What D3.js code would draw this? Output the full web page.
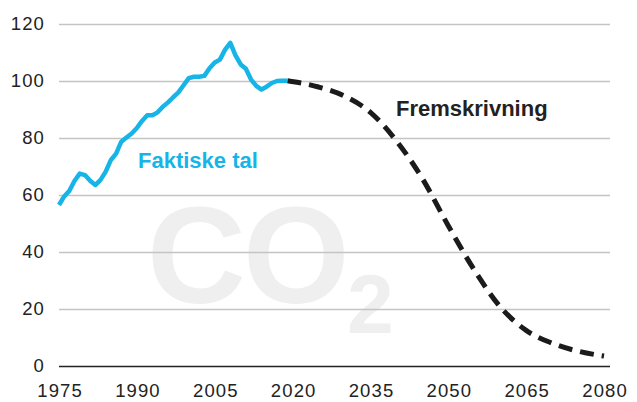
<!DOCTYPE html>
<html>
<head>
<meta charset="utf-8">
<script src="https://cdn.jsdelivr.net/npm/d3@7"></script>
<style>
  html, body { margin: 0; padding: 0; background: #fff; }
  svg { display: block; }
  text { font-family: "Liberation Sans", Arial, sans-serif; }
</style>
</head>
<body>
<svg id="chart" width="637" height="402"></svg>
<script>
// Historical emissions (index), one value per year 1975–2019
const actualYears = d3.range(1975, 2020);
const actualValues = [
  56.5, 59.5, 61.5, 65, 67.5, 67, 65, 63.5, 65.3, 68.2,
  72.3, 74.5, 78.7, 80.2, 81.6, 83.5, 86, 88, 88, 89,
  91, 92.5, 94.3, 96, 98.5, 101, 101.5, 101.5, 101.8, 104.5,
  106.5, 107.5, 111, 113.4, 109, 105.8, 104.3, 100.5, 98.3, 97,
  98, 99.3, 100, 100.1, 100.1
];

// Projected path
const projectionYears = [2019, 2025, 2030, 2035, 2040, 2045, 2050, 2055, 2060, 2065, 2070, 2075, 2080];
const projectionValues = [100.1, 97.9, 94.7, 89, 79, 65.8, 49.2, 33.7, 20.8, 12.5, 8, 5.2, 3.5];

const xTicks = [1975, 1990, 2005, 2020, 2035, 2050, 2065, 2080];
const yTicks = [0, 20, 40, 60, 80, 100, 120];

const labelActual = "Faktiske tal";
const labelProjection = "Fremskrivning";

const svg = d3.select("#chart");

const x = d3.scaleLinear().domain([1975, 2080]).range([59, 604]);
const y = d3.scaleLinear().domain([0, 120]).range([366, 24]);
const gridRight = 610;

// Watermark
const wm = svg.append("g").attr("fill", "#efefef").attr("font-weight", "bold");
wm.append("text").attr("x", 147).attr("y", 303).attr("font-size", 137)
  .attr("letter-spacing", -3).text("CO");
wm.append("text").attr("x", 347).attr("y", 333).attr("font-size", 84).text("2");

// Y axis with gridlines
const yAxis = svg.append("g")
  .attr("transform", `translate(${x.range()[0]},0)`)
  .call(d3.axisLeft(y).tickValues(yTicks)
    .tickSize(-(gridRight - x.range()[0])).tickPadding(14));
yAxis.select(".domain").remove();
yAxis.selectAll(".tick line")
  .attr("stroke", d => d === 0 ? "#222" : "#c4c4c4")
  .attr("stroke-width", 1.5);
yAxis.selectAll(".tick text")
  .attr("font-size", 18.5).attr("fill", "#222")
  .attr("letter-spacing", 1.1)
  .attr("font-family", "Liberation Sans, Arial, sans-serif")
  .attr("dy", "0.28em");

// X axis labels
const xAxis = svg.append("g")
  .attr("transform", `translate(0,${y(0)})`)
  .call(d3.axisBottom(x).tickValues(xTicks).tickFormat(d3.format("d"))
    .tickSize(0).tickPadding(18));
xAxis.select(".domain").remove();
xAxis.selectAll(".tick text")
  .attr("font-size", 18.5).attr("fill", "#222")
  .attr("letter-spacing", 1.1)
  .attr("dx", "0.55")
  .attr("font-family", "Liberation Sans, Arial, sans-serif");

const line = d3.line().x(d => x(d[0])).y(d => y(d[1]));

// Projection (dashed)
svg.append("path")
  .datum(d3.zip(projectionYears, projectionValues))
  .attr("fill", "none")
  .attr("stroke", "#1b1b1b")
  .attr("stroke-width", 5)
  .attr("stroke-dasharray", "14,8")
  .attr("d", line.curve(d3.curveMonotoneX));

// Actual (solid)
svg.append("path")
  .datum(d3.zip(actualYears, actualValues))
  .attr("fill", "none")
  .attr("stroke", "#17b4e7")
  .attr("stroke-width", 4.5)
  .attr("stroke-linejoin", "round")
  .attr("stroke-linecap", "butt")
  .attr("d", line.curve(d3.curveLinear));

// Series labels
svg.append("text")
  .attr("x", 138).attr("y", 168)
  .attr("font-size", 22).attr("font-weight", "bold")
  .attr("fill", "#17b4e7")
  .text(labelActual);

svg.append("text")
  .attr("x", 396).attr("y", 116)
  .attr("font-size", 22).attr("font-weight", "bold")
  .attr("fill", "#222")
  .text(labelProjection);
</script>
</body>
</html>
